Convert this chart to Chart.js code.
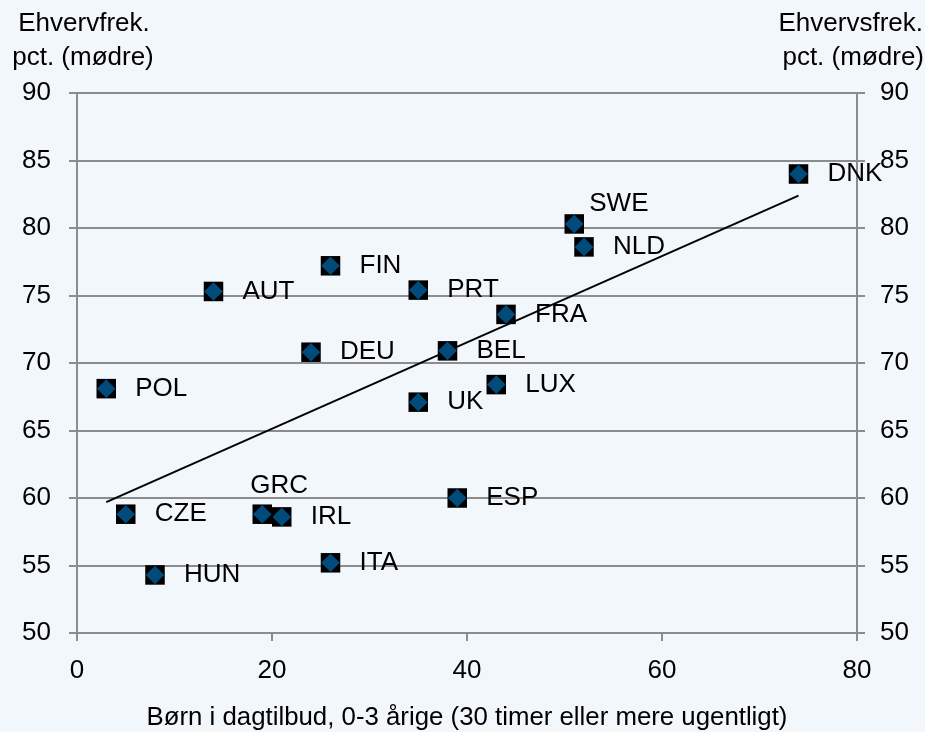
<!DOCTYPE html>
<html>
<head>
<meta charset="utf-8">
<script src="https://cdn.jsdelivr.net/npm/chart.js@4"></script>
<style>
  html, body { margin: 0; padding: 0; background: #f2f7fc; }
  #wrap { width: 925px; height: 732px; }
</style>
</head>
<body>
<div id="wrap"><canvas id="myScatterChart" width="925" height="732"></canvas></div>
<script>
const countries = ["POL", "CZE", "HUN", "AUT", "GRC", "IRL", "DEU", "FIN", "ITA", "UK", "PRT", "BEL", "ESP", "LUX", "FRA", "SWE", "NLD", "DNK"];
const childcare = [3, 5, 8, 14, 19, 21, 24, 26, 26, 35, 35, 38, 39, 43, 44, 51, 52, 74];
const employment = [68.1, 58.8, 54.3, 75.3, 58.8, 58.6, 70.8, 77.2, 55.2, 67.1, 75.4, 70.9, 60.0, 68.4, 73.6, 80.3, 78.6, 84.0];
const trendX = [3, 74];
const trendY = [59.7, 82.4];

const leftTitle = ["Ehvervfrek.", "pct. (mødre)"];
const rightTitle = ["Ehvervsfrek.", "pct. (mødre)"];
const xTitle = "Børn i dagtilbud, 0-3 årige (30 timer eller mere ugentligt)";

const BG = "#f2f7fc";
const GRID = "#8c8c8c";
const FONT = "Liberation Sans, Arial, sans-serif";

const points = childcare.map((x, i) => ({ x: x, y: employment[i] }));
const trend = trendX.map((x, i) => ({ x: x, y: trendY[i] }));

// a few labels sit above the marker instead of to the right
const labelShift = { SWE: [15, -20], GRC: [-12, -28] };

const bgPlugin = {
  id: "bg",
  beforeDraw(chart) {
    const c = chart.ctx;
    c.save();
    c.fillStyle = BG;
    c.fillRect(0, 0, chart.width, chart.height);
    c.restore();
  },
};

const labelPlugin = {
  id: "pointLabels",
  afterDatasetsDraw(chart) {
    const c = chart.ctx;
    const meta = chart.getDatasetMeta(1);
    c.save();
    c.font = "26px " + FONT;
    c.fillStyle = "#000";
    c.textAlign = "left";
    c.textBaseline = "middle";
    meta.data.forEach((pt, i) => {
      const name = countries[i];
      const s = labelShift[name] || [29, 0];
      c.fillText(name, pt.x + s[0], pt.y + s[1]);
    });
    c.restore();
  },
};

const titlePlugin = {
  id: "yTitles",
  afterDraw(chart) {
    const c = chart.ctx;
    c.save();
    c.font = "26px " + FONT;
    c.fillStyle = "#000";
    c.textBaseline = "middle";
    c.textAlign = "center";
    c.fillText(leftTitle[0], 84, 24);
    c.fillText(leftTitle[1], 83, 58);
    c.textAlign = "right";
    c.fillText(rightTitle[0], 923, 24);
    c.fillText(rightTitle[1], 924, 58);
    c.restore();
  },
};

const ctx = document.getElementById("myScatterChart");

new Chart(ctx, {
  type: "scatter",
  data: {
    datasets: [
      {
        data: points,
        pointStyle: "rect",
        pointRadius: 13.8,
        pointHoverRadius: 13.8,
        backgroundColor: "#000",
        borderWidth: 0,
        order: 2,
      },
      {
        data: points,
        pointStyle: "rectRot",
        pointRadius: 9.3,
        pointHoverRadius: 9.3,
        backgroundColor: "#004a7c",
        borderWidth: 0,
        order: 1,
      },
      {
        data: trend,
        showLine: true,
        borderColor: "#000",
        borderWidth: 2,
        pointRadius: 0,
        order: 3,
      },
    ],
  },
  options: {
    responsive: false,
    animation: false,
    events: [],
    layout: { padding: { top: 93, left: 0, right: 0, bottom: 0 }, autoPadding: false },
    plugins: {
      legend: { display: false },
      tooltip: { enabled: false },
    },
    scales: {
      x: {
        type: "linear",
        min: 0,
        max: 80,
        ticks: { stepSize: 20, color: "#000", font: { size: 26, family: FONT }, padding: 14 },
        grid: { drawOnChartArea: false, color: GRID, lineWidth: 2, tickLength: 8 },
        border: { color: GRID, width: 2 },
        title: { display: true, text: xTitle, color: "#000", font: { size: 25.8, family: FONT, lineHeight: 1 }, padding: { top: 0, bottom: 1 } },
        afterFit(scale) { scale.height = 99; },
      },
      y: {
        position: "left",
        min: 50,
        max: 90,
        ticks: { stepSize: 5, color: "#000", font: { size: 26, family: FONT }, padding: 18 },
        grid: { color: GRID, lineWidth: 2, tickLength: 8 },
        border: { color: GRID, width: 2 },
        afterFit(scale) { scale.width = 77; },
      },
      y2: {
        position: "right",
        min: 50,
        max: 90,
        ticks: { stepSize: 5, color: "#000", font: { size: 26, family: FONT }, padding: 15 },
        grid: { drawOnChartArea: false, color: GRID, lineWidth: 2, tickLength: 8 },
        border: { color: GRID, width: 2 },
        afterFit(scale) { scale.width = 68; },
      },
    },
  },
  plugins: [bgPlugin, labelPlugin, titlePlugin],
});
</script>
</body>
</html>
